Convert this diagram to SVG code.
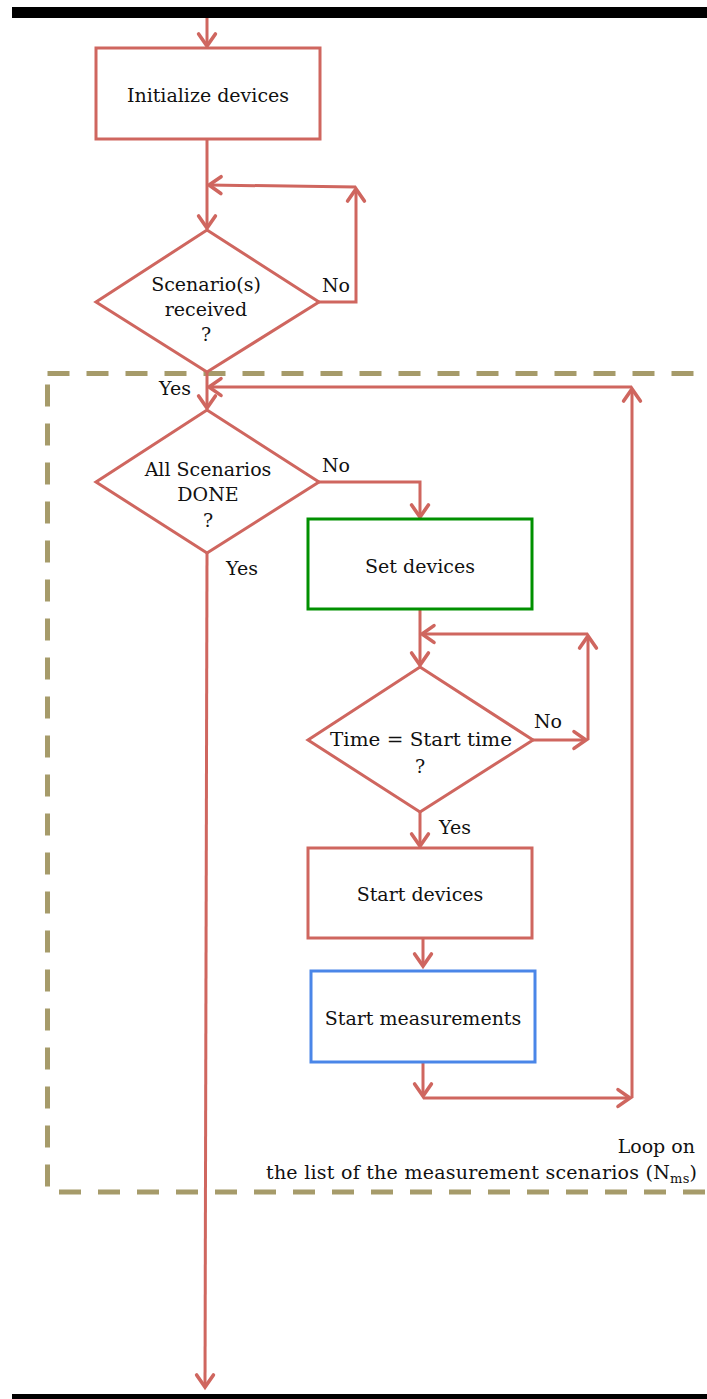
<svg xmlns="http://www.w3.org/2000/svg" width="707" height="1399" viewBox="0 0 707 1399">
<style>
.t{font-family:"DejaVu Serif","Liberation Serif",serif;font-size:19px;fill:#111;text-anchor:middle}
.r{fill:#fff;stroke:#cf665f;stroke-width:3}
.c{fill:none;stroke:#cf665f;stroke-width:3}
.bar{fill:#000}
</style>
<defs>
<marker id="a" markerUnits="userSpaceOnUse" markerWidth="24" markerHeight="24" viewBox="-14 -10 16 20" refX="0" refY="0" orient="auto">
<path d="M-10,-7 L0,0 L-10,7" fill="none" stroke="#cf665f" stroke-width="3" stroke-linecap="round" stroke-linejoin="miter"/>
</marker>
</defs>
<rect class="bar" x="12" y="7" width="695" height="11"/>
<rect class="bar" x="12" y="1394" width="695" height="5"/>
<g id="loop-box">
<rect x="47.5" y="373.5" width="680" height="818.5" fill="none" stroke="#a69b6a" stroke-width="5" stroke-dasharray="22 17"/>
<text class="t" x="695" y="1153" style="text-anchor:end">Loop on</text>
<text class="t" x="266" y="1179" style="text-anchor:start" textLength="431" lengthAdjust="spacing">the list of the measurement scenarios (N<tspan font-size="13" dy="4">ms</tspan><tspan dy="-4">)</tspan></text>
</g>
<g id="connectors">
<path class="c" d="M207,18 V46" marker-end="url(#a)"/>
<path class="c" d="M207,139 V228" marker-end="url(#a)"/>
<path class="c" d="M319,302 H356 V189" marker-end="url(#a)"/>
<path class="c" d="M356,187 L209,185" marker-end="url(#a)"/>
<path class="c" d="M207,372 V408" marker-end="url(#a)"/>
<path class="c" d="M632,1098 V389" marker-end="url(#a)"/>
<path class="c" d="M632,387 H209" marker-end="url(#a)"/>
<path class="c" d="M319,482 H420 V517" marker-end="url(#a)"/>
<path class="c" d="M420,609 V665" marker-end="url(#a)"/>
<path class="c" d="M533,740 H586" marker-end="url(#a)"/>
<path class="c" d="M588,740 V636" marker-end="url(#a)"/>
<path class="c" d="M588,634 H422" marker-end="url(#a)"/>
<path class="c" d="M420,812 V846" marker-end="url(#a)"/>
<path class="c" d="M423,938 V966" marker-end="url(#a)"/>
<path class="c" d="M423,1062 V1096" marker-end="url(#a)"/>
<path class="c" d="M423,1098 H630" marker-end="url(#a)"/>
<path class="c" d="M207,553 L205,1387" marker-end="url(#a)"/>
<text class="t" x="175" y="395">Yes</text>
<text class="t" x="336" y="292">No</text>
<text class="t" x="336" y="472">No</text>
<text class="t" x="242" y="575">Yes</text>
<text class="t" x="548" y="728">No</text>
<text class="t" x="455" y="834">Yes</text>
</g>
<g id="init">
<rect class="r" x="96" y="48" width="224" height="91"/>
<text class="t" x="208" y="102">Initialize devices</text>
</g>
<g id="received">
<polygon class="r" points="207,230 319,302 207,372 96,302"/>
<text class="t" x="206" y="291">Scenario(s)</text>
<text class="t" x="206" y="316">received</text>
<text class="t" x="206" y="341">?</text>
</g>
<g id="done">
<polygon class="r" points="207,410 319,482 207,553 96,482"/>
<text class="t" x="208" y="476">All Scenarios</text>
<text class="t" x="208" y="501">DONE</text>
<text class="t" x="208" y="527">?</text>
</g>
<g id="set">
<rect x="308" y="519" width="224" height="90" fill="#fff" stroke="#009000" stroke-width="3"/>
<text class="t" x="420" y="573">Set devices</text>
</g>
<g id="time">
<polygon class="r" points="420,667 533,740 420,812 308,740"/>
<text class="t" x="421" y="746" textLength="182" lengthAdjust="spacingAndGlyphs">Time = Start time</text>
<text class="t" x="420" y="773">?</text>
</g>
<g id="start">
<rect class="r" x="308" y="848" width="224" height="90"/>
<text class="t" x="420" y="901">Start devices</text>
</g>
<g id="measure">
<rect x="311" y="971" width="224" height="91" fill="#fff" stroke="#4a86e8" stroke-width="3"/>
<text class="t" x="423" y="1025">Start measurements</text>
</g>
</svg>
